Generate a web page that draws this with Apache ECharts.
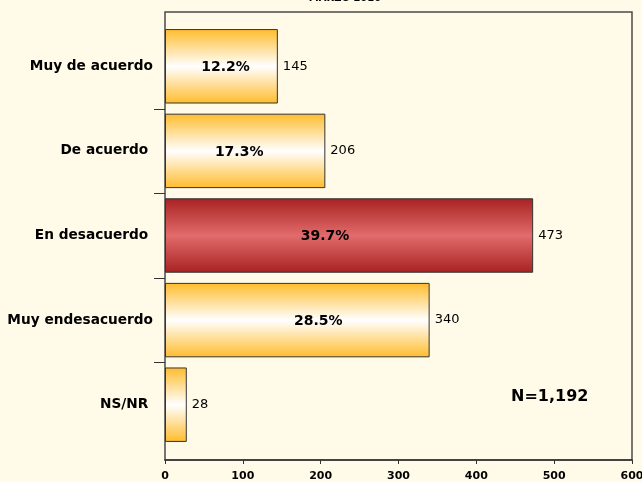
<!DOCTYPE html>
<html><head><meta charset="utf-8">
<script src="https://cdn.jsdelivr.net/npm/echarts@6/dist/echarts.min.js"></script>
<style>html,body{margin:0;padding:0;background:#FFFBE8;}#c{width:642px;height:482px;}</style>
</head><body><div id="c"></div>
<script>
var categories = ['Muy de acuerdo', 'De acuerdo ', 'En desacuerdo ', 'Muy endesacuerdo', 'NS/NR '];
var counts = [145, 206, 473, 340, 28];
var percents = ['12.2%', '17.3%', '39.7%', '28.5%', ''];
var highlightIndex = 2;
var xTicks = [0, 100, 200, 300, 400, 500, 600];
var title = 'MARZO 2010';
var note = 'N=1,192';

var F = 'DejaVu Sans, Verdana, sans-serif';
// horizontal nudges of the percentage labels, as placed in the original
var pctLabelShift = [4, -6, -24, 21, 0];
function grad(edge, mid){
  return new echarts.graphic.LinearGradient(0,0,0,1,[
    {offset:0,color:edge},{offset:0.5,color:mid},{offset:1,color:edge}]);
}
var chart = echarts.init(document.getElementById('c'));
var xMin = xTicks[0], xMax = xTicks[xTicks.length-1];
chart.setOption({
  backgroundColor:'#FFFBE8',
  animation:false,
  title:{text:title,left:340,textAlign:'center',top:-12,textStyle:{fontFamily:F,fontSize:10,fontWeight:'bold',color:'#000'}},
  grid:[
    {left:165,right:10,top:12,bottom:22,show:true,borderColor:'#4a4a4a',borderWidth:1.5,backgroundColor:'transparent',outerBoundsMode:'none',containLabel:false},
    {left:165,right:10,top:24,bottom:35,show:false,outerBoundsMode:'none',containLabel:false}
  ],
  xAxis:[
    {gridIndex:0,type:'value',min:xMin,max:xMax,interval:100,
      axisLine:{show:true,lineStyle:{color:'#333',width:1.5}},
      axisTick:{show:true,length:4,lineStyle:{color:'#333'}},
      splitLine:{show:false},
      axisLabel:{fontFamily:F,fontSize:11,fontWeight:'bold',color:'#000',margin:11}},
    {gridIndex:1,type:'value',min:xMin,max:xMax,interval:100,show:false,splitLine:{show:false}}
  ],
  yAxis:[
    {gridIndex:0,type:'value',show:false,splitLine:{show:false}},
    {gridIndex:1,type:'category',data:categories,inverse:true,
      axisLine:{show:false},axisTick:{show:false},
      axisLabel:{fontFamily:F,fontSize:13.7,fontWeight:'bold',color:'#000',margin:12}}
  ],
  series:[{
    type:'bar',xAxisIndex:1,yAxisIndex:1,barWidth:'88%',
    data:counts.map(function(v,i){return {value:v,
      itemStyle:{color: i===highlightIndex?grad('#A82222','#E26B6B'):grad('#FFBC2C','#FFFFFF')},
      label:{offset:[pctLabelShift[i],1]}};}),
    itemStyle:{borderColor:'#333',borderWidth:1},
    label:{show:true,position:'inside',fontFamily:F,fontSize:14,fontWeight:'bold',color:'#000',
      formatter:function(p){return percents[p.dataIndex];}}
  },{
    type:'bar',xAxisIndex:1,yAxisIndex:1,barWidth:'88%',barGap:'-100%',silent:true,
    data:counts,itemStyle:{color:'transparent'},
    label:{show:true,position:'right',distance:5,fontFamily:F,fontSize:13,color:'#000'}
  }]
});
// category boundary ticks on the left axis, positioned from the library's scale
var x0 = chart.convertToPixel({xAxisIndex:1}, xMin);
var graphics = [{type:'text',left:511,top:389,style:{text:note,font:'bold 16px '+F,fill:'#000'}}];
for (var i=0;i<categories.length-1;i++){
  var y = (chart.convertToPixel({yAxisIndex:1}, categories[i]) + chart.convertToPixel({yAxisIndex:1}, categories[i+1]))/2;
  y = Math.round(y)+0.5;
  graphics.push({type:'line',shape:{x1:x0-11,y1:y,x2:x0,y2:y},style:{stroke:'#333',lineWidth:1}});
}
chart.setOption({graphic:graphics});
</script></body></html>
